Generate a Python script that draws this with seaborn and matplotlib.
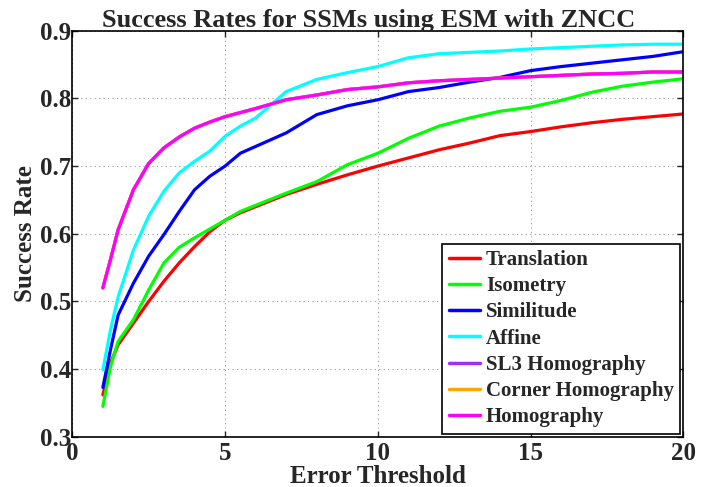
import numpy as np
import pandas as pd
import matplotlib
matplotlib.use("Agg")
import matplotlib.pyplot as plt
import seaborn as sns

# ---- data ----
thresholds = [1, 1.25, 1.5, 2, 2.5, 3, 3.5, 4, 4.5, 5, 5.5, 6, 7, 8, 9, 10,
              11, 12, 13, 14, 15, 16, 17, 18, 19, 20]

translation = [0.362, 0.409, 0.436, 0.468, 0.500, 0.530, 0.557, 0.581, 0.603, 0.620,
               0.631, 0.640, 0.658, 0.673, 0.687, 0.700, 0.712, 0.724, 0.734, 0.745,
               0.751, 0.758, 0.764, 0.769, 0.773, 0.777]
isometry = [0.345, 0.404, 0.441, 0.473, 0.517, 0.557, 0.580, 0.594, 0.607, 0.620,
            0.633, 0.642, 0.660, 0.677, 0.702, 0.719, 0.741, 0.759, 0.771, 0.781,
            0.787, 0.797, 0.809, 0.818, 0.824, 0.829]
similitude = [0.373, 0.429, 0.480, 0.527, 0.567, 0.599, 0.633, 0.665, 0.685, 0.700,
              0.719, 0.729, 0.749, 0.776, 0.789, 0.798, 0.810, 0.816, 0.824, 0.831,
              0.841, 0.847, 0.852, 0.857, 0.862, 0.869]
affine = [0.399, 0.458, 0.507, 0.576, 0.626, 0.663, 0.690, 0.707, 0.722, 0.744,
          0.759, 0.771, 0.810, 0.828, 0.838, 0.847, 0.860, 0.866, 0.868, 0.870,
          0.873, 0.875, 0.877, 0.879, 0.880, 0.880]
homography = [0.520, 0.562, 0.606, 0.665, 0.704, 0.727, 0.743, 0.756, 0.765, 0.773,
              0.779, 0.785, 0.798, 0.805, 0.813, 0.817, 0.823, 0.826, 0.828, 0.830,
              0.832, 0.834, 0.836, 0.837, 0.839, 0.839]
# SL3 and corner homography lie under the homography curve in the reference
sl3_homography = list(homography)
corner_homography = list(homography)

ssm_names = ["Translation", "Isometry", "Similitude", "Affine",
             "SL3 Homography", "Corner Homography", "Homography"]
ssm_colors = ["#ff0000", "#00ff00", "#0000ff", "#00ffff",
              "#a030ee", "#ffa500", "#ff00ff"]

series = [translation, isometry, similitude, affine,
          sl3_homography, corner_homography, homography]

rows = []
for name, vals in zip(ssm_names, series):
    for t, v in zip(thresholds, vals):
        rows.append({"Error Threshold": t, "Success Rate": v, "SSM": name})
df = pd.DataFrame(rows)

# ---- style ----
sns.set_style("ticks")
plt.rcParams["font.family"] = ["Liberation Serif", "DejaVu Serif"]
plt.rcParams["font.weight"] = "bold"

fig = plt.figure(figsize=(7.09, 4.87), dpi=100)
ax = fig.add_axes([0.102, 0.103, 0.862, 0.834])

sns.lineplot(data=df, x="Error Threshold", y="Success Rate", hue="SSM",
             hue_order=ssm_names, palette=ssm_colors, linewidth=2.3,
             ax=ax, legend=True)

ax.set_xlim(0, 20)
ax.set_ylim(0.3, 0.9)
ax.set_xticks([0, 5, 10, 15, 20])
ax.set_yticks([0.3, 0.4, 0.5, 0.6, 0.7, 0.8, 0.9])
ax.set_yticklabels(["0.3", "0.4", "0.5", "0.6", "0.7", "0.8", "0.9"])
ax.tick_params(direction="in", labelsize=18, length=4, width=1,
               top=True, right=True)
ax.tick_params(axis="x", pad=4)
ax.tick_params(axis="y", pad=1)
for lab in ax.get_xticklabels() + ax.get_yticklabels():
    lab.set_fontweight("bold")

ax.grid(True, linestyle=(0, (1, 3)), color="#999999", linewidth=0.8)
for sp in ax.spines.values():
    sp.set_visible(True)
    sp.set_linewidth(1.2)
    sp.set_color("black")

ax.set_title("Success Rates for SSMs using ESM with ZNCC", fontsize=19,
             fontweight="bold", pad=3, x=0.485)
ax.set_xlabel("Error Threshold", fontsize=18, fontweight="bold", labelpad=0)
ax.set_ylabel("Success Rate", fontsize=18, fontweight="bold", labelpad=2)

leg = ax.legend(loc="lower right", frameon=True, fancybox=False,
                borderaxespad=0.15, handlelength=1.5, handletextpad=0.3,
                labelspacing=0.3, borderpad=0.3,
                prop={"weight": "bold", "size": 15})
leg.get_frame().set_edgecolor("black")
leg.get_frame().set_linewidth(1.2)
leg.get_frame().set_alpha(1)
for line in leg.get_lines():
    line.set_linewidth(2.5)

fig.savefig("out.png", dpi=100)
